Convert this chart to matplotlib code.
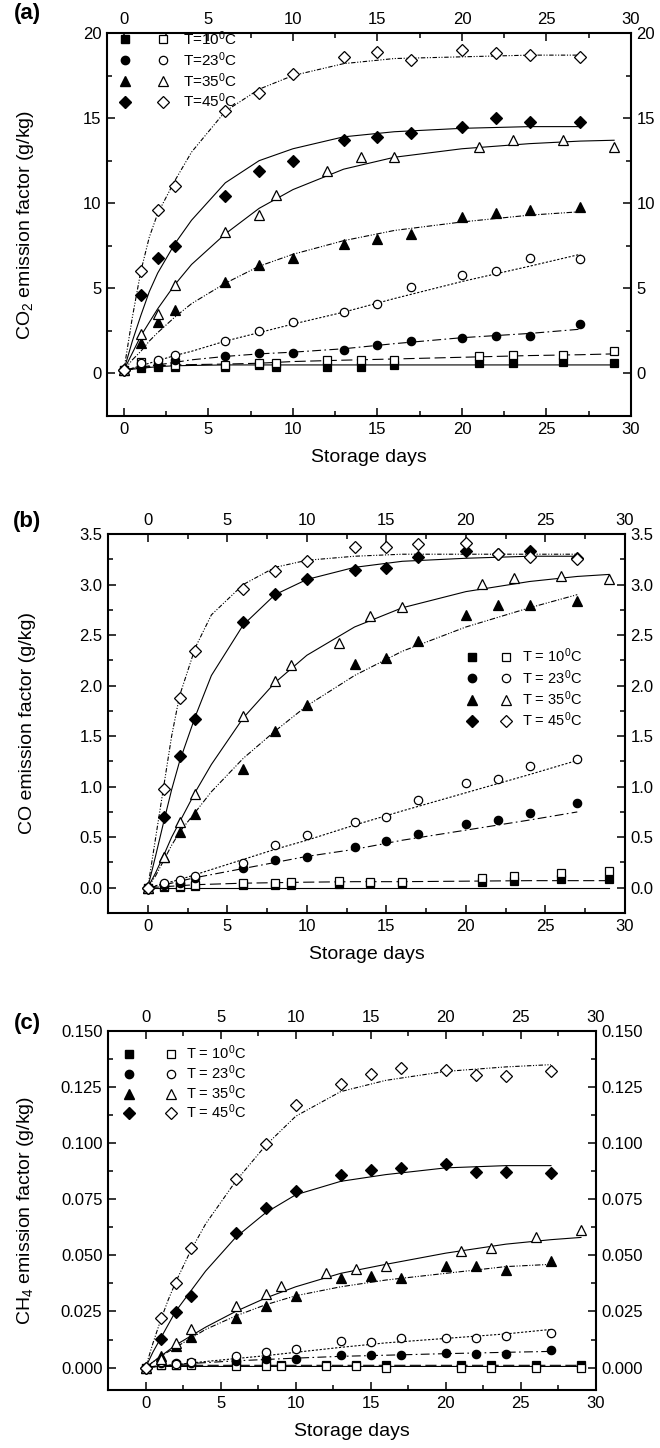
import matplotlib
matplotlib.use("Agg")
import matplotlib.pyplot as plt
from matplotlib.lines import Line2D
from matplotlib.legend_handler import HandlerTuple
from matplotlib.ticker import MultipleLocator, FormatStrFormatter

plt.rcParams['font.family'] = ['Liberation Sans', 'DejaVu Sans']
plt.rcParams['mathtext.fontset'] = 'custom'
plt.rcParams['mathtext.rm'] = 'Liberation Sans'
plt.rcParams['mathtext.it'] = 'Liberation Sans:italic'
plt.rcParams['mathtext.bf'] = 'Liberation Sans:bold'

# sampling days (circles, diamonds, filled triangles) and (squares, open triangles)
DAYS_A = [0, 1, 2, 3, 6, 8, 10, 13, 15, 17, 20, 22, 24, 27]
DAYS_B = [0, 1, 2, 3, 6, 8, 9, 12, 14, 16, 21, 23, 26, 29]

FIT_T27 = [0, 0.5, 1, 1.5, 2, 3, 4, 6, 8, 10, 13, 16, 20, 24, 27]
FIT_T29 = [0, 0.5, 1, 1.5, 2, 3, 4, 6, 8, 10, 13, 16, 20, 24, 27, 29]

TEMPS = ["10", "23", "35", "45"]

# ---- (a) CO2 ----
CO2_SQ_FILLED = [0.2, 0.3, 0.4, 0.4, 0.4, 0.5, 0.4, 0.4, 0.4, 0.5, 0.6, 0.6, 0.7, 0.6]
CO2_SQ_OPEN = [0.2, 0.7, 0.5, 0.5, 0.5, 0.6, 0.6, 0.8, 0.8, 0.8, 1.0, 1.1, 1.1, 1.3]
CO2_CI_FILLED = [0.2, 0.4, 0.5, 0.8, 1.0, 1.2, 1.2, 1.4, 1.7, 1.9, 2.1, 2.2, 2.2, 2.9]
CO2_CI_OPEN = [0.2, 0.6, 0.8, 1.1, 1.9, 2.5, 3.0, 3.6, 4.1, 5.1, 5.8, 6.0, 6.8, 6.7]
CO2_TR_FILLED = [0.2, 1.8, 3.0, 3.7, 5.4, 6.4, 6.8, 7.6, 7.9, 8.2, 9.2, 9.4, 9.6, 9.8]
CO2_TR_OPEN = [0.2, 2.3, 3.5, 5.2, 8.3, 9.3, 10.5, 11.9, 12.7, 12.7, 13.3, 13.7, 13.7, 13.3]
CO2_DI_FILLED = [0.2, 4.6, 6.8, 7.5, 10.4, 11.9, 12.5, 13.7, 13.9, 14.1, 14.5, 15.0, 14.8, 14.8]
CO2_DI_OPEN = [0.2, 6.0, 9.6, 11.0, 15.4, 16.5, 17.6, 18.6, 18.9, 18.4, 19.0, 18.8, 18.7, 18.6]

CO2_FIT_SQ_FILLED = [0.2, 0.25, 0.3, 0.35, 0.4, 0.45, 0.47, 0.5, 0.5, 0.5, 0.5, 0.5, 0.5, 0.5, 0.5, 0.5]
CO2_FIT_SQ_OPEN = [0.2, 0.3, 0.35, 0.4, 0.45, 0.5, 0.52, 0.55, 0.6, 0.7, 0.78, 0.85, 0.95, 1.05, 1.1, 1.15]
CO2_FIT_CI_FILLED = [0.2, 0.25, 0.35, 0.45, 0.5, 0.65, 0.8, 1.0, 1.15, 1.25, 1.45, 1.75, 2.1, 2.35, 2.6]
CO2_FIT_CI_OPEN = [0.2, 0.3, 0.45, 0.6, 0.75, 1.05, 1.3, 1.9, 2.4, 2.9, 3.6, 4.4, 5.4, 6.3, 7.0]
CO2_FIT_TR_FILLED = [0.2, 0.8, 1.3, 1.9, 2.4, 3.3, 4.1, 5.3, 6.3, 7.0, 7.8, 8.4, 8.9, 9.3, 9.5]
CO2_FIT_TR_OPEN = [0.2, 1.2, 2.2, 3.0, 3.8, 5.2, 6.4, 8.2, 9.7, 10.8, 12.0, 12.7, 13.2, 13.5, 13.65, 13.7]
CO2_FIT_DI_FILLED = [0.2, 1.9, 3.4, 4.8, 5.9, 7.6, 9.0, 11.2, 12.5, 13.2, 13.9, 14.2, 14.4, 14.5, 14.5]
CO2_FIT_DI_OPEN = [0.2, 3.3, 6.0, 8.0, 9.4, 11.3, 13.0, 15.4, 16.7, 17.5, 18.2, 18.5, 18.6, 18.7, 18.7]

# ---- (b) CO ----
CO_SQ_FILLED = [0.0, 0.01, 0.01, 0.02, 0.03, 0.03, 0.03, 0.04, 0.05, 0.05, 0.06, 0.07, 0.09, 0.09]
CO_SQ_OPEN = [0.0, 0.02, 0.02, 0.03, 0.05, 0.05, 0.06, 0.07, 0.06, 0.06, 0.10, 0.12, 0.15, 0.17]
CO_CI_FILLED = [0.0, 0.03, 0.05, 0.10, 0.20, 0.27, 0.30, 0.40, 0.46, 0.53, 0.63, 0.67, 0.74, 0.84]
CO_CI_OPEN = [0.0, 0.05, 0.08, 0.12, 0.24, 0.42, 0.52, 0.65, 0.70, 0.87, 1.04, 1.08, 1.20, 1.27]
CO_TR_FILLED = [0.0, 0.30, 0.55, 0.73, 1.17, 1.55, 1.81, 2.21, 2.27, 2.44, 2.70, 2.80, 2.80, 2.84]
CO_TR_OPEN = [0.0, 0.30, 0.65, 0.93, 1.70, 2.05, 2.20, 2.42, 2.69, 2.78, 3.01, 3.06, 3.08, 3.05]
CO_DI_FILLED = [0.0, 0.70, 1.30, 1.67, 2.63, 2.91, 3.05, 3.14, 3.16, 3.27, 3.33, 3.30, 3.33, 3.26]
CO_DI_OPEN = [0.0, 0.98, 1.88, 2.34, 2.96, 3.13, 3.23, 3.37, 3.37, 3.40, 3.41, 3.30, 3.27, 3.25]

CO_FIT_SQ_FILLED = [0.0, 0.0, 0.0, 0.0, 0.0, 0.0, 0.0, 0.0, 0.0, 0.0, 0.0, 0.0, 0.0, 0.0, 0.0, 0.0]
CO_FIT_SQ_OPEN = [0.0, 0.005, 0.01, 0.015, 0.02, 0.03, 0.035, 0.045, 0.05, 0.055, 0.06, 0.06, 0.065, 0.07, 0.07, 0.07]
CO_FIT_CI_FILLED = [0.0, 0.015, 0.03, 0.045, 0.065, 0.10, 0.13, 0.19, 0.25, 0.31, 0.38, 0.47, 0.57, 0.67, 0.75]
CO_FIT_CI_OPEN = [0.0, 0.02, 0.04, 0.06, 0.08, 0.13, 0.18, 0.28, 0.38, 0.47, 0.62, 0.76, 0.94, 1.12, 1.26]
CO_FIT_TR_FILLED = [0.0, 0.12, 0.27, 0.42, 0.55, 0.75, 0.95, 1.28, 1.55, 1.80, 2.10, 2.34, 2.58, 2.77, 2.90]
CO_FIT_TR_OPEN = [0.0, 0.15, 0.32, 0.50, 0.65, 0.95, 1.22, 1.68, 2.03, 2.30, 2.58, 2.77, 2.93, 3.03, 3.08, 3.10]
CO_FIT_DI_FILLED = [0.0, 0.32, 0.65, 0.97, 1.25, 1.70, 2.10, 2.60, 2.90, 3.05, 3.17, 3.23, 3.26, 3.28, 3.28]
CO_FIT_DI_OPEN = [0.0, 0.50, 1.00, 1.50, 1.90, 2.38, 2.70, 3.00, 3.17, 3.24, 3.28, 3.30, 3.30, 3.30, 3.30]

# ---- (c) CH4 ----
CH4_SQ_FILLED = [0.0, 0.001, 0.001, 0.002, 0.003, 0.003, 0.001, 0.001, 0.001, 0.001, 0.001, 0.001, 0.001, 0.001]
CH4_SQ_OPEN = [0.0, 0.001, 0.001, 0.001, 0.0005, 0.0005, 0.0005, 0.0005, 0.0005, 0.0, 0.0, 0.0, 0.0, 0.0]
CH4_CI_FILLED = [0.0, 0.002, 0.002, 0.002, 0.003, 0.004, 0.004, 0.0056, 0.0056, 0.0056, 0.0064, 0.006, 0.006, 0.008]
CH4_CI_OPEN = [0.0, 0.0027, 0.0015, 0.0024, 0.0053, 0.0068, 0.0083, 0.0117, 0.0112, 0.013, 0.013, 0.013, 0.014, 0.0152]
CH4_TR_FILLED = [0.0, 0.005, 0.0098, 0.0135, 0.022, 0.0275, 0.032, 0.040, 0.041, 0.040, 0.0453, 0.0453, 0.0435, 0.0475]
CH4_TR_OPEN = [0.0, 0.004, 0.011, 0.017, 0.0275, 0.0327, 0.0364, 0.0423, 0.0438, 0.0453, 0.052, 0.0534, 0.0583, 0.0615]
CH4_DI_FILLED = [0.0, 0.0127, 0.0249, 0.032, 0.060, 0.0711, 0.0786, 0.086, 0.088, 0.089, 0.0908, 0.087, 0.087, 0.0867]
CH4_DI_OPEN = [0.0, 0.022, 0.0379, 0.0534, 0.084, 0.0997, 0.117, 0.1265, 0.1308, 0.1334, 0.1328, 0.1303, 0.130, 0.132]

CH4_FIT_SQ_FILLED = [0.0, 0.0003, 0.0005, 0.0005, 0.0005, 0.0005, 0.0005, 0.0005, 0.0005, 0.0005, 0.0005, 0.0005, 0.0005, 0.0005, 0.0005, 0.0005]
CH4_FIT_SQ_OPEN = [0.0, 0.0005, 0.001, 0.001, 0.001, 0.001, 0.001, 0.001, 0.001, 0.001, 0.001, 0.001, 0.001, 0.001, 0.001, 0.001]
CH4_FIT_CI_FILLED = [0.0, 0.0003, 0.0006, 0.0009, 0.0012, 0.0018, 0.0022, 0.003, 0.0036, 0.0042, 0.005, 0.0055, 0.0062, 0.0068, 0.0072]
CH4_FIT_CI_OPEN = [0.0, 0.0003, 0.0006, 0.001, 0.0013, 0.002, 0.0027, 0.004, 0.0053, 0.0068, 0.009, 0.011, 0.013, 0.015, 0.017]
CH4_FIT_TR_FILLED = [0.0, 0.0025, 0.005, 0.007, 0.009, 0.013, 0.017, 0.023, 0.028, 0.032, 0.036, 0.039, 0.042, 0.045, 0.046]
CH4_FIT_TR_OPEN = [0.0, 0.0025, 0.005, 0.0075, 0.010, 0.014, 0.018, 0.025, 0.031, 0.036, 0.042, 0.046, 0.051, 0.055, 0.057, 0.058]
CH4_FIT_DI_FILLED = [0.0, 0.007, 0.013, 0.019, 0.025, 0.034, 0.043, 0.058, 0.069, 0.077, 0.083, 0.086, 0.089, 0.090, 0.090]
CH4_FIT_DI_OPEN = [0.0, 0.011, 0.021, 0.030, 0.038, 0.052, 0.064, 0.083, 0.099, 0.112, 0.123, 0.128, 0.132, 0.134, 0.135]

# marker, filled, line style for the fitted curve
STYLE = [
    ("s", True, "-"),
    ("s", False, (0, (10, 4))),
    ("o", True, (0, (8, 3, 1.5, 3))),
    ("o", False, (0, (2, 1.5))),
    ("^", True, (0, (5, 1.5, 1, 1.5, 1, 1.5))),
    ("^", False, "-"),
    ("D", True, "-"),
    ("D", False, (0, (4, 1.5, 1, 1.5, 1, 1.5))),
]
MS = {"s": 5.5, "o": 6, "^": 6.5, "D": 6}

fig = plt.figure(figsize=(6.6, 14.48), dpi=100)


def draw_panel(rect, data, fits, xlim, ylim, ymaj, ymin, yfmt, ylabel, tag, tag_y, lab_x):
    ax = fig.add_axes(rect)
    days = [DAYS_B, DAYS_B, DAYS_A, DAYS_A, DAYS_A, DAYS_B, DAYS_A, DAYS_A]
    for (m, filled, ls), d, v, fv in zip(STYLE, days, data, fits):
        ft = FIT_T29 if len(fv) == len(FIT_T29) else FIT_T27
        ax.plot(ft, fv, color="black", lw=0.8, ls=ls, zorder=2)
        ax.plot(d, v, ls="none", marker=m, ms=MS[m],
                mfc="black" if filled else "white", mec="black", mew=0.9, zorder=3)
    ax.set_xlim(*xlim)
    ax.set_ylim(*ylim)
    ax.xaxis.set_major_locator(MultipleLocator(5))
    ax.xaxis.set_minor_locator(MultipleLocator(2.5))
    ax.xaxis.set_major_formatter(FormatStrFormatter("%d"))
    ax.yaxis.set_major_locator(MultipleLocator(ymaj))
    ax.yaxis.set_minor_locator(MultipleLocator(ymin))
    ax.yaxis.set_major_formatter(FormatStrFormatter(yfmt))
    ax.tick_params(which="both", direction="in", top=True, right=True,
                   labeltop=True, labelright=True, width=1.1, labelsize=12, pad=4)
    ax.tick_params(which="major", length=6)
    ax.tick_params(which="minor", length=3.5)
    for sp in ax.spines.values():
        sp.set_linewidth(1.5)
    ax.set_xlabel("Storage days", fontsize=14, labelpad=9)
    ax.set_ylabel(ylabel, fontsize=14)
    ax.yaxis.set_label_coords(lab_x, 0.5)
    fig.text(27 / 660, 1 - tag_y / 1448, tag, fontsize=16, fontweight="bold",
             ha="center", va="center")
    return ax


def add_legend(ax, labels, fs, w, p, tp, spacing, anchor):
    handles = []
    for m in ["s", "o", "^", "D"]:
        handles.append((Line2D([], [], ls="none", marker=m, ms=MS[m], mfc="black", mec="black"),
                        Line2D([], [], ls="none", marker=m, ms=MS[m], mfc="white",
                               mec="black", mew=0.9)))
    ax.legend(handles, labels, handler_map={tuple: HandlerTuple(ndivide=None, pad=p)},
              frameon=False, numpoints=1, handlelength=2 * w + p, handletextpad=tp,
              labelspacing=spacing, fontsize=fs, loc="upper left",
              bbox_to_anchor=anchor, borderaxespad=0, borderpad=0)


ax_a = draw_panel([107 / 660, 1 - 416 / 1448, 524 / 660, 383 / 1448],
                  [CO2_SQ_FILLED, CO2_SQ_OPEN, CO2_CI_FILLED, CO2_CI_OPEN,
                   CO2_TR_FILLED, CO2_TR_OPEN, CO2_DI_FILLED, CO2_DI_OPEN],
                  [CO2_FIT_SQ_FILLED, CO2_FIT_SQ_OPEN, CO2_FIT_CI_FILLED, CO2_FIT_CI_OPEN,
                   CO2_FIT_TR_FILLED, CO2_FIT_TR_OPEN, CO2_FIT_DI_FILLED, CO2_FIT_DI_OPEN],
                  (-1, 30), (-2.5, 20), 5, 2.5, "%d",
                  "CO$_2$ emission factor (g/kg)", "(a)", 14, -0.135)
add_legend(ax_a, ["T=%s$^0$C" % t for t in TEMPS], 11, 1.2, 1.28, 0.71, 0.15, (0.017, 1.01))

ax_b = draw_panel([108 / 660, 1 - 913 / 1448, 517 / 660, 379 / 1448],
                  [CO_SQ_FILLED, CO_SQ_OPEN, CO_CI_FILLED, CO_CI_OPEN,
                   CO_TR_FILLED, CO_TR_OPEN, CO_DI_FILLED, CO_DI_OPEN],
                  [CO_FIT_SQ_FILLED, CO_FIT_SQ_OPEN, CO_FIT_CI_FILLED, CO_FIT_CI_OPEN,
                   CO_FIT_TR_FILLED, CO_FIT_TR_OPEN, CO_FIT_DI_FILLED, CO_FIT_DI_OPEN],
                  (-2.5, 30), (-0.25, 3.5), 0.5, 0.25, "%.1f",
                  "CO emission factor (g/kg)", "(b)", 522, -0.139)
add_legend(ax_b, ["T = %s$^0$C" % t for t in TEMPS], 10.5, 1.2, 1.13, 0.5, 0.19, (0.687, 0.703))

ax_c = draw_panel([108 / 660, 1 - 1390 / 1448, 488 / 660, 359 / 1448],
                  [CH4_SQ_FILLED, CH4_SQ_OPEN, CH4_CI_FILLED, CH4_CI_OPEN,
                   CH4_TR_FILLED, CH4_TR_OPEN, CH4_DI_FILLED, CH4_DI_OPEN],
                  [CH4_FIT_SQ_FILLED, CH4_FIT_SQ_OPEN, CH4_FIT_CI_FILLED, CH4_FIT_CI_OPEN,
                   CH4_FIT_TR_FILLED, CH4_FIT_TR_OPEN, CH4_FIT_DI_FILLED, CH4_FIT_DI_OPEN],
                  (-2.5, 30), (-0.01, 0.15), 0.025, 0.0125, "%.3f",
                  "CH$_4$ emission factor (g/kg)", "(c)", 1024, -0.148)
add_legend(ax_c, ["T = %s$^0$C" % t for t in TEMPS], 10.5, 1.2, 1.68, 0.43, 0.08, (0.025, 0.965))

fig.savefig("out.png", dpi=100)
